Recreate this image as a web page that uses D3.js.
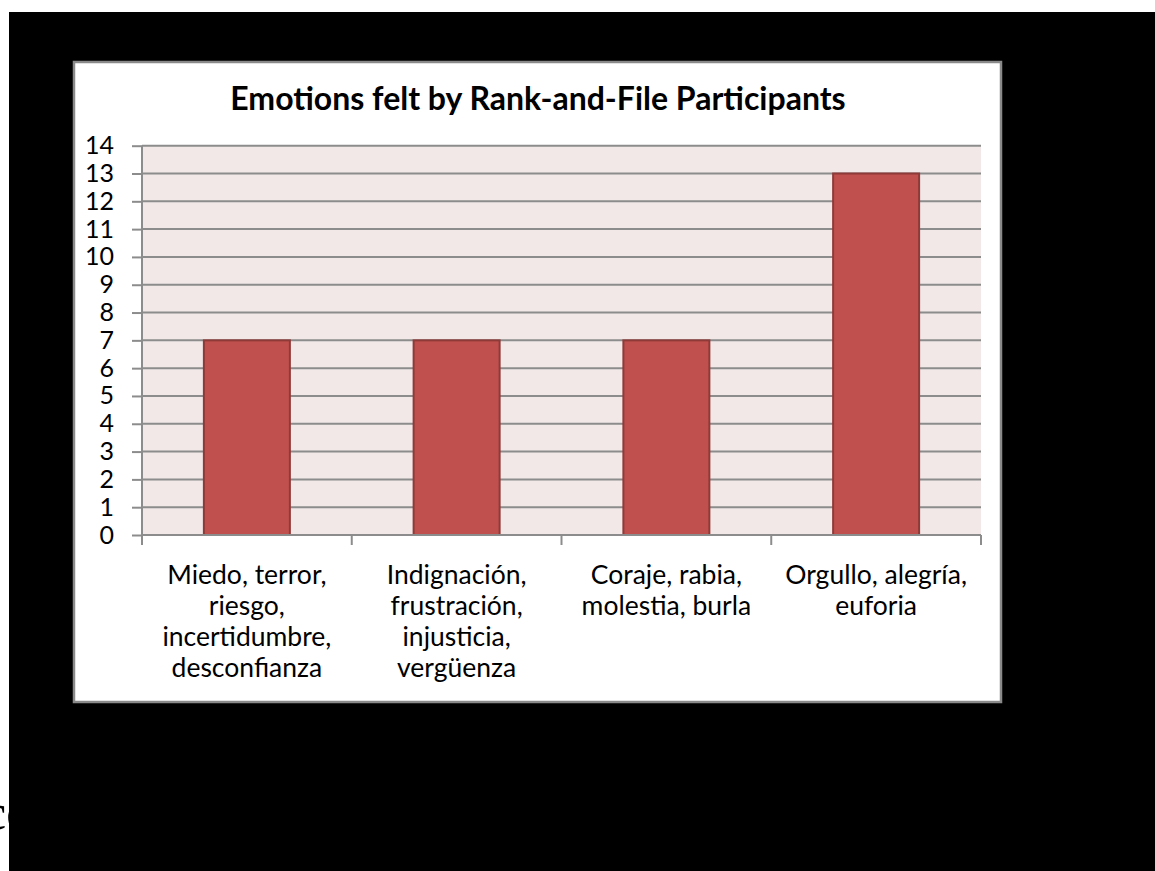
<!DOCTYPE html>
<html>
<head>
<meta charset="utf-8">
<script src="https://cdn.jsdelivr.net/npm/d3@7"></script>
<style>
  body { margin: 0; background: #fff; }
  svg { display: block; }
</style>
</head>
<body>
<svg width="1155" height="871"></svg>
<script>
// Data
var categories = [
    ["Miedo, terror,", "riesgo,", "incertidumbre,", "desconfianza"],
    ["Indignación,", "frustración,", "injusticia,", "vergüenza"],
    ["Coraje, rabia,", "molestia, burla"],
    ["Orgullo, alegría,", "euforia"]
];
var values = [7, 7, 7, 13];
var yTicks = [0, 1, 2, 3, 4, 5, 6, 7, 8, 9, 10, 11, 12, 13, 14];
var title = "Emotions felt by Rank-and-File Participants";

var svg = d3.select("svg");
var font = "Lato, 'Open Sans', sans-serif";

// stray text behind the black slide (cut off at left edge)
svg.append("text")
    .attr("x", -16)
    .attr("y", 829)
    .style("font", "50px 'Liberation Serif', serif")
    .attr("fill", "#000")
    .text("co");

// black backdrop
svg.append("rect")
    .attr("x", 9).attr("y", 12)
    .attr("width", 1146).attr("height", 859)
    .attr("fill", "#000");

// chart box
svg.append("rect")
    .attr("x", 74).attr("y", 62)
    .attr("width", 927).attr("height", 640)
    .attr("fill", "#fff")
    .attr("stroke", "#8a8a8a")
    .attr("stroke-width", 2.5);

var plot = {left: 142, right: 981, top: 145.7, bottom: 535};

var x = d3.scaleBand()
    .domain(d3.range(categories.length))
    .range([plot.left, plot.right])
    .paddingInner(0.59)
    .paddingOuter(0.295);

var y = d3.scaleLinear()
    .domain([0, 14])
    .range([plot.bottom, plot.top]);

var g = svg.append("g");

// plot background
g.append("rect")
    .attr("x", plot.left).attr("y", plot.top)
    .attr("width", plot.right - plot.left)
    .attr("height", plot.bottom - plot.top)
    .attr("fill", "#f2e8e8");

// gridlines
g.selectAll(".grid")
    .data(yTicks.slice(1))
    .enter().append("line")
        .attr("class", "grid")
        .attr("x1", plot.left).attr("x2", plot.right)
        .attr("y1", function(d) { return y(d); })
        .attr("y2", function(d) { return y(d); })
        .attr("stroke", "#8c8c8c")
        .attr("stroke-width", 2);

// bars
g.selectAll(".bar")
    .data(values)
    .enter().append("rect")
        .attr("class", "bar")
        .attr("x", function(d, i) { return x(i); })
        .attr("y", function(d) { return y(d); })
        .attr("width", x.bandwidth())
        .attr("height", function(d) { return y(0) - y(d); })
        .attr("fill", "#c0504d")
        .attr("stroke", "#8e3a38")
        .attr("stroke-width", 2);

// y axis
var yAxis = g.append("g")
    .attr("transform", "translate(" + plot.left + ",0)")
    .call(d3.axisLeft(y).tickValues(yTicks).tickSize(10).tickPadding(18).tickFormat(d3.format("d")));
yAxis.select(".domain").attr("stroke", "#8c8c8c").attr("stroke-width", 2).attr("d", "M0," + plot.top + "V" + plot.bottom);
yAxis.selectAll(".tick line").attr("stroke", "#8c8c8c").attr("stroke-width", 2);
yAxis.selectAll(".tick text")
    .style("font", "25px " + font)
    .attr("fill", "#000");

// x axis: line plus boundary ticks
var step = x.step();
var bounds = d3.range(categories.length + 1).map(function(i) { return plot.left + i * step; });
g.append("line")
    .attr("x1", plot.left).attr("x2", plot.right)
    .attr("y1", y(0)).attr("y2", y(0))
    .attr("stroke", "#8c8c8c").attr("stroke-width", 2);
g.selectAll(".xtick")
    .data(bounds)
    .enter().append("line")
        .attr("class", "xtick")
        .attr("x1", function(d) { return d; }).attr("x2", function(d) { return d; })
        .attr("y1", y(0)).attr("y2", y(0) + 10)
        .attr("stroke", "#8c8c8c").attr("stroke-width", 2);

// category labels
var labels = g.selectAll(".xlabel")
    .data(categories)
    .enter().append("text")
        .attr("class", "xlabel")
        .attr("text-anchor", "middle")
        .attr("y", 584)
        .style("font", "26.5px " + font)
        .attr("fill", "#000");
labels.selectAll("tspan")
    .data(function(d, i) { return d.map(function(t) { return {t: t, i: i}; }); })
    .enter().append("tspan")
        .attr("x", function(d) { return x(d.i) + x.bandwidth() / 2; })
        .attr("dy", function(d, j) { return j ? 31 : 0; })
        .text(function(d) { return d.t; });

// title
svg.append("text")
    .attr("x", 538)
    .attr("y", 110)
    .attr("text-anchor", "middle")
    .style("font", "bold 32px " + font)
    .attr("fill", "#000")
    .text(title);
</script>
</body>
</html>
